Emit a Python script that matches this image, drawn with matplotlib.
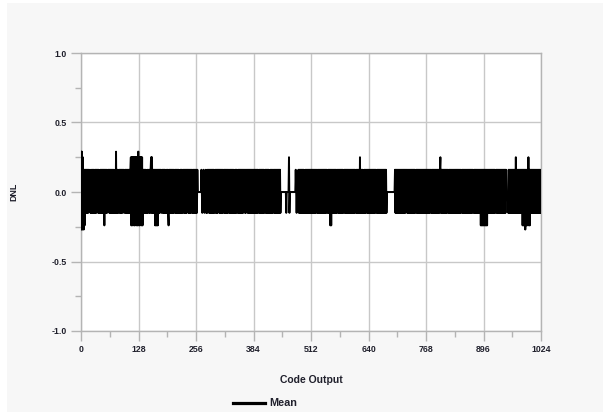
import matplotlib
matplotlib.use("Agg")
import matplotlib.pyplot as plt
import numpy as np
from matplotlib.patches import Rectangle

# DNL per output code, read off the chart and coded one char per code
# p/n = top/bottom of the normal band, q/m = slightly inside it,
# P/N = larger spikes, T/B = largest, 0 = zero
level_map = {'0': 0.0, 'p': 0.16, 'n': -0.15, 'q': 0.11, 'm': -0.10,
             'P': 0.25, 'N': -0.24, 'T': 0.29, 'B': -0.27}

dnl_rows = [
    "TBTBPnBp Npnpnpnp npm0pnqn pnpnpnnp npnp0pnp nqnpnpnp npnpNpnp npn0pmpn",
    "pnpnpnpn pnqnpnTn pnpn0pnp npnpnpmp n0pnpnpn pnpnpnpP NPNPnPNP NPnPNPNT",
    "TNPNPnPN PNpnpnpn pnqnpn0p npnpPnPn pnpnpNpN pNpNpnpn pmpn0pnp npnpnqnp",
    "npnNpnpn pnpnpnpn 0pnpnpnp npnqnpnp npn0pnpn pnpnpmpn pnpnpnp0 npnpnpnp",
    "npnp0000 0000p0n0 0p0n00pn 0np0pnpn pnpnpnpn pn0pnpnp npqpnpnp npnpn0pn",
    "pnpnpnpn p0npnpnp npnpnqnp npnp0npn pnpnpnpn pnpmpnpn p0pnpnpn pnpnpnpn",
    "pnpnpnpn pnp0npnp npnpnpnp n0pnpnpn pnpnqnpn pnpn0pnp npnpnpnp npnpn000",
    "00000000 0n00000P n0000000 000000p0 n000pnpn pnpnpnpn pnqnpnpn pnpnpnpn",
    "pnpnpnpn pnpnp0np npnpnpnp npnpnpnp npnp0npn pnpNpNpn pnpnpnpn pn0pnpnp",
    "npnpnpnp n0pnpnpn pnpnpnpn pnpnpnpn pnp0npnp npnpnPnp npnpnqnp npn0pnpn",
    "pnpnpnpn pnpnpnpn p0npnpnp npnpnpnp npnpnpnp n0000000 00000000 000pnpnp",
    "npnpnpnp npnpnpnp npnp0pnp npnpnpnp npnpnpnp n0pnpnpn pnpnpnpn pnpnpnpn",
    "pnpnpnpn pnp0npnp npnpnpnp npnpnpnp Pnpnpnpn pnpnpnpn p0npnpnp npnpnpnp",
    "npnpnpnp npnpnpn0 pnpnpnpn pnpnpnpn pnpnpnpn p0npnpnp npnpnpnp npNpNpNp",
    "NpNpNpNp Npnpnpnp npnpnpnp npn0pnpn pnpnpnpn pnpnpnpn pnp0000n pnpnpnpn",
    "pnpnpnpn Pnpnpnpn pnpnpnpN pNpNpBpN pNpnPNpN pnpnpnpn pnpnpnpn pnpnpnpn",
]

x_ticks = [0, 128, 256, 384, 512, 640, 768, 896, 1024]
x_ticklabels = ["0", "128", "256", "384", "512", "640", "768", "896", "1024"]
y_ticks = [-1.0, -0.5, 0.0, 0.5, 1.0]
y_ticklabels = ["-1.0", "-0.5", "0.0", "0.5", "1.0"]


def main():
    codes_str = "".join(r.replace(" ", "") for r in dnl_rows)
    dnl = np.array([level_map[c] for c in codes_str])
    code = np.arange(len(dnl))

    fig = plt.figure(figsize=(6.09, 4.15), dpi=100, facecolor="white")
    fig.patches.append(Rectangle((7 / 609, 3 / 415), 596 / 609, 409 / 415,
                                 transform=fig.transFigure, facecolor="#f7f7f7",
                                 edgecolor="none", zorder=-10))

    ax = fig.add_axes([81 / 609, 1 - 331 / 415, 460 / 609, 278 / 415])
    ax.set_facecolor("white")

    ax.plot(code, dnl, color="black", lw=1.4, label="Mean", zorder=3)

    ax.set_xlim(0, 1024)
    ax.set_ylim(-1.0, 1.0)
    ax.set_xticks(x_ticks)
    ax.set_xticklabels(x_ticklabels)
    ax.set_xticks(np.arange(64, 1024, 128), minor=True)
    ax.set_yticks(y_ticks)
    ax.set_yticklabels(y_ticklabels)
    ax.set_yticks([-0.75, -0.25, 0.25, 0.75], minor=True)

    ax.grid(which="major", color="#c8c8c8", lw=1.0, zorder=1)
    for s in ax.spines.values():
        s.set_color("#b4b4b4")
        s.set_linewidth(1.0)

    txt_color = "#20202c"
    font = dict(family="Liberation Sans", weight="bold", size=6.3)
    ax.tick_params(which="major", length=7, width=1, color="#b4b4b4", pad=3, labelcolor=txt_color)
    ax.tick_params(which="minor", length=4, width=1, color="#b4b4b4")
    for lab in ax.get_xticklabels() + ax.get_yticklabels():
        lab.set_fontproperties(font)

    ax.set_xlabel("Code Output", family="Liberation Sans", weight="bold", fontsize=7.5,
                  labelpad=15, color=txt_color)
    ax.set_ylabel("DNL", family="Liberation Sans", weight="bold", fontsize=6.4,
                  labelpad=24, color=txt_color)

    leg = fig.legend(loc="center", bbox_to_anchor=(0.435, 0.028), frameon=False,
                     handlelength=3.0, handletextpad=0.4,
                     prop=dict(family="Liberation Sans", weight="bold", size=7.8))
    for h in leg.get_lines():
        h.set_linewidth(2.3)
    for t in leg.get_texts():
        t.set_color(txt_color)

    fig.savefig("out.png", dpi=100, facecolor=fig.get_facecolor())


if __name__ == "__main__":
    main()
